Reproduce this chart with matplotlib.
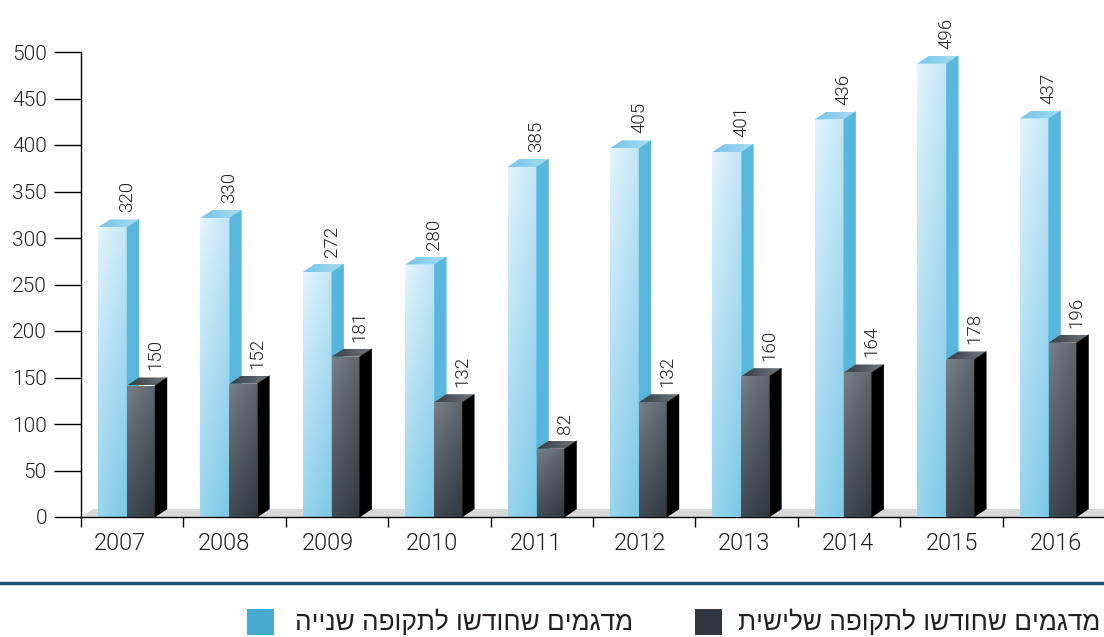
import numpy as np
import matplotlib
matplotlib.use("Agg")
import matplotlib.pyplot as plt
from matplotlib.patches import Polygon, Rectangle
from matplotlib.lines import Line2D
from matplotlib.colors import to_rgb

# ---- data ----
years = ["2007", "2008", "2009", "2010", "2011", "2012", "2013", "2014", "2015", "2016"]
second_period = [320, 330, 272, 280, 385, 405, 401, 436, 496, 437]
third_period = [150, 152, 181, 132, 82, 132, 160, 164, 178, 196]
y_ticks = [0, 50, 100, 150, 200, 250, 300, 350, 400, 450, 500]
legend_second = "מדגמים שחודשו לתקופה שנייה"
legend_third = "מדגמים שחודשו לתקופה שלישית"

plt.rcParams["font.family"] = ["Roboto", "DejaVu Sans"]
plt.rcParams["font.weight"] = 300
TEXT = "#231f20"

W, H, DPI = 1104, 637, 100
fig = plt.figure(figsize=(W / DPI, H / DPI), dpi=DPI)

PX_X = 102.4   # pixels per category
PX_Y = 0.93    # pixels per value unit
ax = fig.add_axes([81 / W, 120 / H, 1024 / W, 517 / H])

DX = 12 / PX_X      # depth offset, x
DY = 8 / PX_Y       # depth offset, y
OFF = 17 / PX_X     # gap from category edge to first bar
W1 = 29 / PX_X      # front width, second-period bar
W2 = 28 / PX_X      # front width, third-period bar


def gradient_face(verts, c_a, c_b, bbox, z, diag=0.3, power=1.0, horizontal=False):
    x0, x1, y0, y1 = bbox
    n = 96
    yy, xx = np.mgrid[0:1:n * 1j, 0:1:n * 1j]
    if horizontal:
        t = xx
    else:
        t = np.clip((1 - diag) * yy + diag * xx, 0, 1) ** power
    a = np.array(to_rgb(c_a))
    b = np.array(to_rgb(c_b))
    img = a[None, None, :] * (1 - t[..., None]) + b[None, None, :] * t[..., None]
    clip = Polygon(verts, closed=True, facecolor="none", edgecolor="none")
    ax.add_patch(clip)
    im = ax.imshow(img, extent=[x0, x1, y0, y1], origin="upper", aspect="auto",
                   interpolation="bilinear", zorder=z)
    im.set_clip_path(clip)


def bar3d(x0, w, v, front_top, front_bottom, top_a, top_b, side, z, power):
    ft = v - DY
    front = [(x0, 0), (x0 + w, 0), (x0 + w, ft), (x0, ft)]
    gradient_face(front, front_top, front_bottom, (x0, x0 + w, 0, ft), z, diag=0.3, power=power)
    top = [(x0, ft), (x0 + w, ft), (x0 + w + DX, v), (x0 + DX, v)]
    gradient_face(top, top_a, top_b, (x0, x0 + w + DX, ft, v), z, horizontal=True)
    side_poly = [(x0 + w, 0), (x0 + w + DX, DY), (x0 + w + DX, v), (x0 + w, ft)]
    ax.add_patch(Polygon(side_poly, closed=True, facecolor=side, edgecolor=side,
                         lw=0.3, zorder=z))


# floor
ax.add_patch(Polygon([(-0.5, 0), (9.7, 0), (9.7, DY), (-0.5 + DX, DY)], closed=True,
                     facecolor="#d9d9d9", edgecolor="none", zorder=1))

for i, (a, b) in enumerate(zip(second_period, third_period)):
    left = i - 0.5 + OFF
    bar3d(left, W1, a, "#e6f5fc", "#7dc8e8", "#74c3e7", "#a9dcf1", "#58b7dd", 2 + i * 0.1, 0.9)
    x2 = left + W1
    bar3d(x2, W2, b, "#7c848b", "#2f3740", "#363d44", "#6f767c", "#000000", 3 + i * 0.1, 0.8)
    lbl_pad = 7 / PX_Y
    ax.text(x2, a + lbl_pad, f"{a}", rotation=90, ha="center", va="bottom",
            fontsize=13.5, color=TEXT, zorder=10)
    ax.text(x2 + W2, b + lbl_pad, f"{b}", rotation=90, ha="center", va="bottom",
            fontsize=13.5, color=TEXT, zorder=10)

ax.set_xlim(-0.5, 9.5)
ax.set_ylim(0, 517 / PX_Y)

# axes styling
for s in ("top", "right"):
    ax.spines[s].set_visible(False)
ax.spines["left"].set_bounds(0, 500)
ax.spines["left"].set_linewidth(1.0)
ax.spines["bottom"].set_linewidth(1.0)
ax.spines["left"].set_zorder(0.5)

ax.set_yticks(y_ticks)
ax.set_yticklabels([str(t) for t in y_ticks])
ax.tick_params(axis="y", direction="out", length=19.5, width=1.0, pad=5,
               labelsize=15, labelcolor=TEXT)

ax.set_xticks(np.arange(-0.5, 9.6, 1.0))
ax.set_xticklabels([])
ax.tick_params(axis="x", direction="out", length=7.5, width=1.0)

label_pos = np.linspace(-0.124, 9.016, len(years))
for x, y in zip(label_pos, years):
    ax.text(x, -15 / 517, y, transform=ax.get_xaxis_transform(), ha="center", va="top",
            fontsize=17, color=TEXT)

# legend area
fig.add_artist(Line2D([0, 1], [1 - 583 / H] * 2, transform=fig.transFigure,
                      color="#1f4e79", lw=2.5))
heb = ["Liberation Sans", "DejaVu Sans"]
fig.add_artist(Rectangle((247 / W, 1 - 635 / H), 27 / W, 26 / H, transform=fig.transFigure,
                         facecolor="#46a9d0", edgecolor="none"))
fig.text(633 / W, 1 - 622 / H, legend_second[::-1], ha="right", va="center",
         fontsize=18.8, color=TEXT, family=heb, fontweight="normal")
fig.add_artist(Rectangle((695 / W, 1 - 635 / H), 27 / W, 26 / H, transform=fig.transFigure,
                         facecolor="#2f3741", edgecolor="none"))
fig.text(1100 / W, 1 - 622 / H, legend_third[::-1], ha="right", va="center",
         fontsize=18.8, color=TEXT, family=heb, fontweight="normal")

fig.savefig("out.png", dpi=DPI)
